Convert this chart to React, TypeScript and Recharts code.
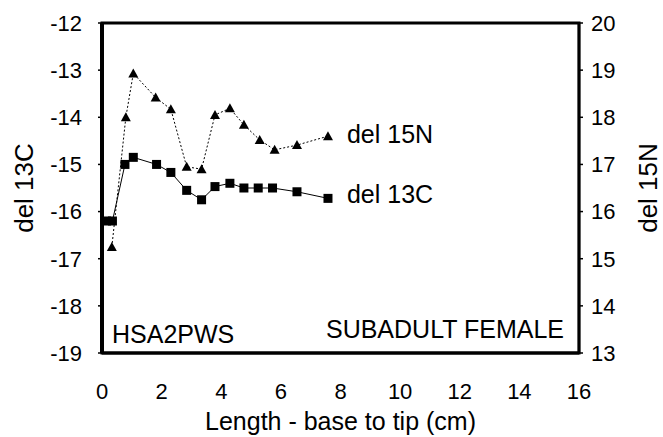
import {
  ComposedChart,
  Label,
  LabelList,
  Line,
  ReferenceArea,
  XAxis,
  YAxis,
} from 'recharts';

const FONT = '"Liberation Sans", Arial, sans-serif';

// del 13C (left axis), squares
const lengthC = [0.15, 0.35, 0.77, 1.05, 1.83, 2.31, 2.84, 3.34, 3.79, 4.29, 4.76, 5.24, 5.72, 6.54, 7.58];
const del13C = [-16.2, -16.2, -15.0, -14.85, -15.0, -15.17, -15.55, -15.75, -15.47, -15.4, -15.5, -15.5, -15.5, -15.58, -15.72];

// del 15N (right axis), triangles
const lengthN = [0.33, 0.8, 1.05, 1.8, 2.31, 2.84, 3.34, 3.79, 4.29, 4.76, 5.29, 5.79, 6.54, 7.58];
const del15N = [15.25, 18.0, 18.93, 18.42, 18.17, 16.95, 16.9, 18.05, 18.19, 17.84, 17.52, 17.31, 17.41, 17.6];

const xTicks = [0, 2, 4, 6, 8, 10, 12, 14, 16];
const leftTicks = [-19, -18, -17, -16, -15, -14, -13, -12];
const rightTicks = [13, 14, 15, 16, 17, 18, 19, 20];

const carbon = lengthC.map((x, i) => ({ x, c: del13C[i] }));
const nitrogen = lengthN.map((x, i) => ({ x, n: del15N[i] }));

const tickStyle = { fontSize: 22, fill: '#000', fontFamily: FONT };
const textStyle = { fontSize: 25, fill: '#000', fontFamily: FONT };

const Square = (p: any) => (
  <rect key={`s${p.index}`} x={p.cx - 4.5} y={p.cy - 4.5} width={9} height={9} fill='#000' />
);

const Triangle = (p: any) => (
  <path
    key={`t${p.index}`}
    d={`M${p.cx},${p.cy - 5} L${p.cx + 5},${p.cy + 4} L${p.cx - 5},${p.cy + 4} Z`}
    fill='#000'
  />
);

const endLabel = (name: string, count: number, dy: number) => (props: any) =>
  props.index === count - 1 ? (
    <text x={props.x + 19} y={props.y + dy} style={textStyle}>
      {name}
    </text>
  ) : null;

export default function App() {
  return (
    <div style={{ position: 'absolute', left: 0, top: 0, background: '#fff' }}>
      <ComposedChart
        width={663}
        height={437}
        margin={{ top: 23, right: 0, bottom: 0, left: 0 }}
      >
        <XAxis
          type='number'
          dataKey='x'
          domain={[0, 16]}
          ticks={xTicks}
          allowDataOverflow
          height={84}
          tickLine={false}
          tickSize={0}
          tickMargin={30}
          axisLine={{ stroke: '#000', strokeWidth: 3 }}
          tick={tickStyle}
        >
          <Label
            value='Length - base to tip (cm)'
            position='insideBottom'
            offset={7}
            style={textStyle}
          />
        </XAxis>
        <YAxis
          yAxisId='left'
          type='number'
          domain={[-19, -12]}
          ticks={leftTicks}
          width={102}
          tickSize={4}
          tickMargin={16}
          tickLine={{ stroke: '#000', strokeWidth: 1.5 }}
          axisLine={{ stroke: '#000', strokeWidth: 4 }}
          tick={tickStyle}
        >
          <Label
            value='del 13C'
            angle={-90}
            position='insideLeft'
            offset={24}
            style={{ ...textStyle, fontSize: 26, textAnchor: 'middle' }}
          />
        </YAxis>
        <YAxis
          yAxisId='right'
          orientation='right'
          type='number'
          domain={[13, 20]}
          ticks={rightTicks}
          width={84}
          tickSize={4}
          tickMargin={8}
          tickLine={{ stroke: '#000', strokeWidth: 1.5 }}
          axisLine={{ stroke: '#000', strokeWidth: 2.5 }}
          tick={tickStyle}
        >
          <Label
            value='del 15N'
            angle={-90}
            position='insideRight'
            offset={15}
            style={{ ...textStyle, fontSize: 26, textAnchor: 'middle' }}
          />
        </YAxis>
        <ReferenceArea
          yAxisId='left'
          x1={0}
          x2={16}
          y1={-19}
          y2={-12}
          fill='none'
          stroke='#000'
          strokeWidth={3}
        >
          <Label value='HSA2PWS' position='insideBottomLeft' offset={10} style={textStyle} />
        </ReferenceArea>
        <ReferenceArea
          yAxisId='left'
          x1={0}
          x2={16}
          y1={-19}
          y2={-12}
          fill='none'
          stroke='none'
        >
          <Label value='SUBADULT FEMALE' position='insideBottomRight' offset={15} style={textStyle} />
        </ReferenceArea>
        <Line
          yAxisId='right'
          data={nitrogen}
          dataKey='n'
          type='linear'
          stroke='#000'
          strokeWidth={1}
          strokeDasharray='2 2'
          dot={Triangle}
          activeDot={false}
          isAnimationActive={false}
        >
          <LabelList dataKey='n' content={endLabel('del 15N', nitrogen.length, 6.5)} />
        </Line>
        <Line
          yAxisId='left'
          data={carbon}
          dataKey='c'
          type='linear'
          stroke='#000'
          strokeWidth={1}
          dot={Square}
          activeDot={false}
          isAnimationActive={false}
        >
          <LabelList dataKey='c' content={endLabel('del 13C', carbon.length, 4.5)} />
        </Line>
      </ComposedChart>
    </div>
  );
}
